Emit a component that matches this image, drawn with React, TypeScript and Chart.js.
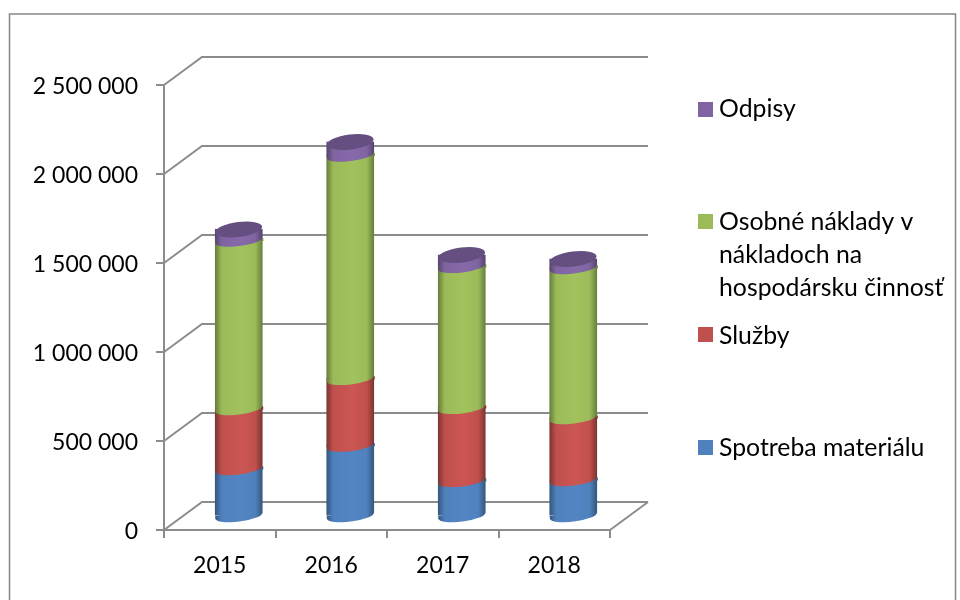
import React, { useEffect, useRef } from "react";
import { Chart, registerables } from "chart.js";

Chart.register(...registerables);

const categories = ["2015", "2016", "2017", "2018"];
const spotreba = [264000, 395000, 197000, 202000];
const sluzby = [337000, 375000, 410000, 348000];
const osobne = [946000, 1255000, 792000, 843000];
const odpisy = [63000, 76000, 67000, 51000];

const seriesLabels = ["Spotreba materiálu", "Služby", "Osobné náklady v nákladoch na hospodársku činnosť", "Odpisy"];
const baseColors = ["#4F81BD", "#C0504D", "#9BBB59", "#8064A2"];
const edgeColors = ["#35587F", "#7E3532", "#68803C", "#57446F"];
const midColors = ["#5285C3", "#CC5654", "#A2C25D", "#8569A9"];
const capColor = "#644F80";

const legendEntries = [
  { color: "#8064A2", box: 102, lines: [["Odpisy", 109]] },
  { color: "#9BBB59", box: 214, lines: [["Osobné náklady v", 222], ["nákladoch na", 255], ["hospodársku činnosť", 288]] },
  { color: "#C0504D", box: 327, lines: [["Služby", 336]] },
  { color: "#4F81BD", box: 440, lines: [["Spotreba materiálu", 448]] },
];

const FONT = "Lato";
const FONT_SIZE = 23;
const LEGEND_FONT_SIZE = 24.8;
const GRID = "#8C8C8C";
const DEPTH_X = 38;
const DEPTH_Y = -28;
const BAR_DX = 19;
const BAR_DY = -14;
const BAR_W = 47;
const RX = 23.5;
const RY = 5.5;
const CAP_RY = 7.5;
const TILT = (-7 * Math.PI) / 180;

function cylGradient(chart: any, index: number, s: number) {
  const sc = chart.scales.x;
  const cx = sc ? sc.getPixelForValue(index) : NaN;
  if (!isFinite(cx)) return baseColors[s];
  const g = chart.ctx.createLinearGradient(cx - RX, 0, cx + RX, 0);
  g.addColorStop(0, edgeColors[s]);
  g.addColorStop(0.14, baseColors[s]);
  g.addColorStop(0.55, midColors[s]);
  g.addColorStop(0.85, baseColors[s]);
  g.addColorStop(1, edgeColors[s]);
  return g;
}

const cylinderPlugin = {
  id: "cylinder3d",
  beforeDraw(chart: any) {
    const { ctx } = chart;
    ctx.save();
    ctx.strokeStyle = "#868686";
    ctx.lineWidth = 1.5;
    ctx.strokeRect(9.5, 14, 946, 620);
    ctx.restore();
  },
  beforeDatasetsDraw(chart: any) {
    const { ctx, chartArea, scales } = chart;
    ctx.save();
    ctx.strokeStyle = GRID;
    ctx.lineWidth = 2;
    for (const t of scales.y.ticks) {
      const y = scales.y.getPixelForValue(t.value);
      ctx.beginPath();
      ctx.moveTo(chartArea.left, y);
      ctx.lineTo(chartArea.left + DEPTH_X, y + DEPTH_Y);
      ctx.lineTo(chartArea.right + DEPTH_X, y + DEPTH_Y);
      ctx.stroke();
    }
    ctx.beginPath();
    ctx.moveTo(chartArea.right, chartArea.bottom);
    ctx.lineTo(chartArea.right + DEPTH_X, chartArea.bottom + DEPTH_Y);
    ctx.stroke();
    ctx.restore();
  },
  beforeDatasetDraw(chart: any) {
    chart.ctx.save();
    chart.ctx.translate(BAR_DX, BAR_DY);
  },
  afterDatasetDraw(chart: any) {
    chart.ctx.restore();
  },
  afterDatasetsDraw(chart: any) {
    const { ctx, scales } = chart;
    ctx.save();
    ctx.translate(BAR_DX, BAR_DY);
    const n = chart.data.datasets.length;
    const step = ((RX * RX - RY * RY) * Math.abs(Math.sin(TILT) * Math.cos(TILT))) / RX;
    categories.forEach((_, i) => {
      const cx = scales.x.getPixelForValue(i);
      let cum = 0;
      for (let s = 0; s < n; s++) {
        const y = scales.y.getPixelForValue(cum);
        // The ellipse is tilted: its right end sits above the bar's flat end
        // and its left end below it, so both corners need squaring off.
        ctx.fillStyle = s === 0 ? "#FFFFFF" : cylGradient(chart, i, s - 1);
        ctx.fillRect(cx + RX - 9, y - step, 10, step + 0.5);
        ctx.fillStyle = cylGradient(chart, i, s);
        ctx.fillRect(cx - RX, y - 0.5, 9, step + 0.5);
        ctx.beginPath();
        ctx.ellipse(cx, y, RX, RY, TILT, 0, Math.PI * 2);
        ctx.fill();
        cum += chart.data.datasets[s].data[i];
      }
      const top = scales.y.getPixelForValue(cum);
      ctx.fillStyle = capColor;
      ctx.beginPath();
      ctx.ellipse(cx, top, RX, CAP_RY, TILT, 0, Math.PI * 2);
      ctx.fill();
    });
    ctx.restore();
  },
  afterDraw(chart: any) {
    const { ctx } = chart;
    ctx.save();
    ctx.font = `${LEGEND_FONT_SIZE}px ${FONT}`;
    ctx.textBaseline = "middle";
    ctx.textAlign = "left";
    for (const e of legendEntries) {
      ctx.fillStyle = e.color;
      ctx.fillRect(698, e.box, 15, 15);
      ctx.fillStyle = "#000000";
      for (const [text, y] of e.lines as [string, number][]) {
        ctx.fillText(text, 719, y);
      }
    }
    ctx.restore();
  },
};

export default function App() {
  const ref = useRef<HTMLCanvasElement>(null);
  useEffect(() => {
    const series = [spotreba, sluzby, osobne, odpisy];
    const chart = new Chart(ref.current as HTMLCanvasElement, {
      type: "bar",
      data: {
        labels: categories,
        datasets: series.map((data, s) => ({
          label: seriesLabels[s],
          data,
          barThickness: BAR_W,
          clip: false as any,
          backgroundColor: (c: any) => cylGradient(c.chart, c.dataIndex, s),
          borderWidth: 0,
        })),
      },
      options: {
        animation: false,
        responsive: false,
        layout: { padding: { top: 85, right: 350, left: 0, bottom: 0 } },
        plugins: { legend: { display: false }, tooltip: { enabled: false } },
        scales: {
          x: {
            stacked: true,
            afterFit: (s: any) => { s.height = 70; },
            grid: { drawOnChartArea: false, drawTicks: true, tickLength: 8, color: GRID, lineWidth: 2 },
            border: { display: true, color: GRID, width: 2 },
            ticks: { color: "#000", padding: 14, font: { family: FONT, size: FONT_SIZE }, maxRotation: 0 },
          },
          y: {
            stacked: true,
            min: 0,
            max: 2500000,
            afterFit: (s: any) => { s.width = 164; },
            grid: { drawOnChartArea: false, drawTicks: true, tickLength: 8, color: GRID, lineWidth: 2 },
            border: { display: true, color: GRID, width: 2 },
            ticks: {
              stepSize: 500000,
              color: "#000",
              padding: 18,
              labelOffset: 1.5,
              font: { family: FONT, size: FONT_SIZE },
              callback: (v: any) => String(v).replace(/\B(?=(\d{3})+$)/g, " "),
            },
          },
        },
      },
      plugins: [cylinderPlugin],
    } as any);
    return () => chart.destroy();
  }, []);
  return (
    <div style={{ position: "fixed", left: 0, top: 0, width: 960, height: 600, background: "#fff" }}>
      <canvas ref={ref} width={960} height={600} style={{ display: "block" }} />
    </div>
  );
}
